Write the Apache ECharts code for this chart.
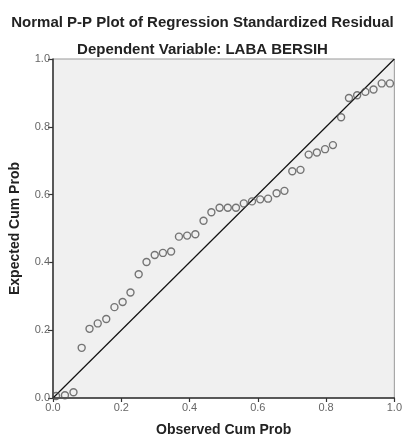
<!DOCTYPE html>
<html>
<head>
<meta charset="utf-8">
<script src="https://cdn.jsdelivr.net/npm/echarts@6/dist/echarts.min.js"></script>
<style>html,body{margin:0;padding:0;background:#fff;}#c{width:405px;height:442px;}</style>
</head>
<body>
<div id="c"></div>
<script>
const titleText = "Normal P-P Plot of Regression Standardized Residual";
const subtitleText = "Dependent Variable: LABA BERSIH";
const xName = "Observed Cum Prob";
const yName = "Expected Cum Prob";
const tickValues = [0, 0.2, 0.4, 0.6, 0.8, 1.0];
const observed = [0.009, 0.035, 0.060, 0.084, 0.107, 0.131, 0.156, 0.180, 0.204, 0.227,
  0.251, 0.274, 0.298, 0.322, 0.346, 0.369, 0.393, 0.417, 0.441, 0.464,
  0.488, 0.512, 0.536, 0.559, 0.583, 0.607, 0.630, 0.655, 0.678, 0.701,
  0.725, 0.749, 0.773, 0.797, 0.820, 0.844, 0.867, 0.891, 0.915, 0.939,
  0.963, 0.987];
const expected = [0.006, 0.008, 0.017, 0.148, 0.204, 0.220, 0.233, 0.268, 0.283, 0.311,
  0.365, 0.401, 0.422, 0.428, 0.432, 0.476, 0.479, 0.483, 0.523, 0.548,
  0.561, 0.561, 0.561, 0.574, 0.580, 0.586, 0.588, 0.604, 0.611, 0.669,
  0.673, 0.718, 0.724, 0.734, 0.746, 0.828, 0.885, 0.893, 0.903, 0.910,
  0.928, 0.928];
const refLine = [[0, 0], [1, 1]];

const pts = observed.map((x, i) => [x, expected[i]]);
const chart = echarts.init(document.getElementById('c'), null, {renderer: 'canvas'});
const font = 'Liberation Sans, Arial, sans-serif';
chart.setOption({
  backgroundColor: '#ffffff',
  animation: false,
  title: [
    {text: titleText, left: 'center', top: 10,
     textStyle: {fontFamily: font, fontSize: 15, fontWeight: 'bold', color: '#222'}},
    {text: subtitleText, left: 'center', top: 37,
     textStyle: {fontFamily: font, fontSize: 15, fontWeight: 'bold', color: '#222'}}
  ],
  grid: {left: 52, right: 4, top: 59, bottom: 41, show: true,
         backgroundColor: '#f0f0f0', borderColor: '#999', borderWidth: 1},
  xAxis: {
    type: 'value', min: 0, max: 1, interval: 0.2,
    name: xName, nameLocation: 'middle', nameGap: 25,
    nameTextStyle: {fontFamily: font, fontSize: 14, fontWeight: 'bold', color: '#222'},
    axisLine: {show: true, lineStyle: {color: '#333', width: 1.5}},
    axisTick: {show: true, length: 4, lineStyle: {color: '#333', width: 1.2}},
    axisLabel: {fontFamily: font, fontSize: 11, color: '#666', margin: 4,
      formatter: v => v.toFixed(1), showMaxLabel: true},
    splitLine: {show: false}
  },
  yAxis: {
    type: 'value', min: 0, max: 1, interval: 0.2,
    name: yName, nameLocation: 'middle', nameGap: 31,
    nameTextStyle: {fontFamily: font, fontSize: 14, fontWeight: 'bold', color: '#222'},
    axisLine: {show: true, lineStyle: {color: '#333', width: 1.5}},
    axisTick: {show: true, length: 5, lineStyle: {color: '#333', width: 1.2}},
    axisLabel: {fontFamily: font, fontSize: 11, color: '#666', margin: 3,
      formatter: v => v.toFixed(1)},
    splitLine: {show: false}
  },
  series: [
    {type: 'line', data: refLine, showSymbol: false, symbol: 'none',
     lineStyle: {color: '#111', width: 1.2}, z: 2, silent: true},
    {type: 'scatter', data: pts, symbol: 'circle', symbolSize: 7,
     itemStyle: {color: 'rgba(0,0,0,0)', borderColor: '#555', borderWidth: 1.4}, z: 3}
  ]
});
</script>
</body>
</html>
